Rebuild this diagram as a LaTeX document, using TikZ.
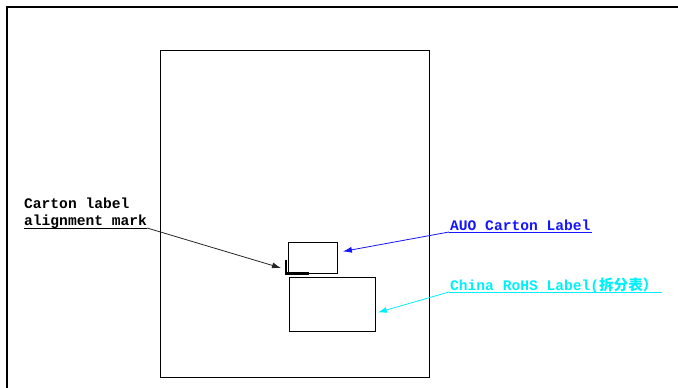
\documentclass[tikz,border=0pt]{standalone}
\usepackage{fontspec}
\setmonofont{Liberation Mono}
\newfontfamily\cjk{Noto Sans CJK SC}
\usepackage{xcolor}
\usetikzlibrary{arrows.meta}
\definecolor{auoblue}{RGB}{20,20,255}
\definecolor{rohscyan}{RGB}{0,240,250}

\begin{document}
\begin{tikzpicture}[
    x=1pt, y=-1pt,
    >={Latex[length=9pt,width=6pt]},
    every node/.style={font=\ttfamily\bfseries\fontsize{14.6}{17}\selectfont},
    box/.style={draw, line width=0.9pt, inner sep=0pt, anchor=north west},
    tag/.style={anchor=base west, inner sep=0pt},
    pointer/.style={->, line width=0.8pt},
]
\useasboundingbox (0,0) rectangle (678,388);
% page frame, only top and left edges show
\draw[line width=1.3pt] (7,388) -- (7,7) -- (679,7);
% carton face with the two labels
\node[box, minimum width=269pt, minimum height=327pt] (carton) at (160,50) {};
\node[box, minimum width=49pt, minimum height=31pt] (auo) at (288,242) {};
\node[box, minimum width=86pt, minimum height=54pt] (rohs) at (289,277) {};
% L-shaped alignment mark
\draw[line width=2pt] (286,260) -- (286,273.5);
\draw[line width=3pt] (285,273.5) -- (309,273.5);
\coordinate (alignmark) at (281,268);
% texts
\node[tag] (cartonlbl) at (24,208) {Carton label};
\node[tag] (alignlbl) at (24,225) {alignment mark};
\node[tag, text=auoblue] (auolbl) at (450,230) {AUO Carton Label};
\node[tag, text=rohscyan] (rohslbl) at (450,290) {China RoHS Label({\cjk 拆分表）}};
% underlines
\draw[line width=1pt] ([yshift=-3pt]alignlbl.base west) -- ([yshift=-3pt]alignlbl.base east);
\draw[auoblue, line width=1pt] ([xshift=-1pt,yshift=-2pt]auolbl.base west) -- ([xshift=1pt,yshift=-2pt]auolbl.base east);
\draw[rohscyan, line width=1pt] ([xshift=-1pt,yshift=-2pt]rohslbl.base west) -- ([xshift=4pt,yshift=-2pt]rohslbl.base east);
% pointers
\draw[pointer, black!85] ([yshift=-3pt]alignlbl.base east) -- (alignmark);
\draw[pointer, auoblue] ([xshift=-1pt,yshift=-2pt]auolbl.base west) -- ([xshift=5pt,yshift=6.5pt]auo.east);
\draw[pointer, rohscyan] ([xshift=-1pt,yshift=-2pt]rohslbl.base west) -- ([xshift=2pt,yshift=-8pt]rohs.east);
\end{tikzpicture}
\end{document}
